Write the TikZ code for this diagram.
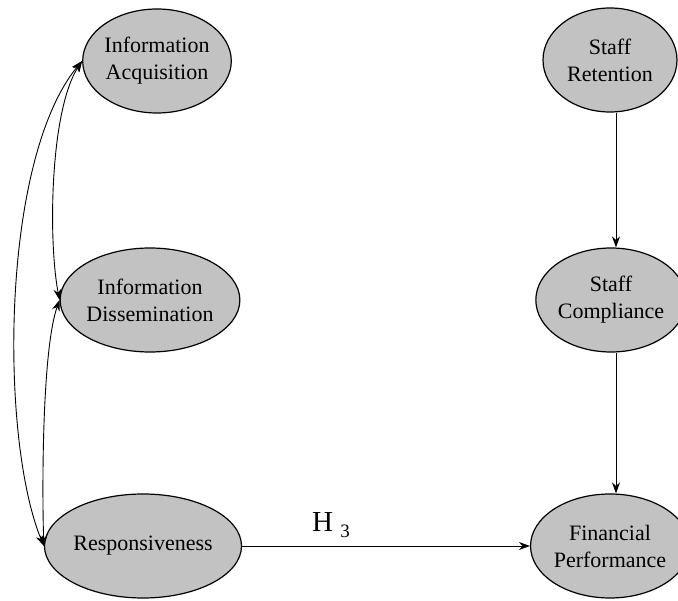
\documentclass[tikz,border=0pt]{standalone}
\usepackage{fontspec}
\setmainfont{Liberation Serif}
\usetikzlibrary{shapes.geometric,arrows.meta}
\begin{document}
\begin{tikzpicture}[x=1pt,y=-1pt,
  construct/.style={ellipse,draw=black,line width=1.2pt,fill=black!24,
    inner sep=0pt,align=center,font=\fontsize{22}{27}\selectfont},
  leftc/.style={construct,minimum width=142pt,minimum height=104pt},
  rightc/.style={construct,minimum width=134pt,minimum height=104pt},
  link/.style={line width=0.9pt,-{Stealth[length=11pt,width=8pt]}},
  corr/.style={line width=0.9pt,{Stealth[length=11pt,width=8pt]}-{Stealth[length=11pt,width=8pt]}}]
\useasboundingbox (0,0) rectangle (678,601);

% exogenous constructs (left column)
\node[leftc] (IA) at (157,61)  {Information\\Acquisition};
\node[leftc] (ID) at (150,300) {Information\\Dissemination};
\node[leftc] (RS) at (143,546) {Responsiveness};

% outcome chain (right column)
\node[rightc] (SR) at (610,60)  {Staff\\Retention};
\node[rightc] (SC) at (611,300) {Staff\\Compliance};
\node[rightc] (FP) at (610,546) {Financial\\Performance};

% correlations among the orientation components
\draw[corr] (IA.west) .. controls (0,160) and (0,440) .. (RS.west);
\draw[corr] (IA.west) .. controls (50,110) and (48,240) .. (ID.west);
\draw[corr] (ID.west) .. controls (42,350) and (42,490) .. (RS.west);

% structural paths
\draw[link] ([xshift=6pt]SR.south) -- ([xshift=5pt]SC.north);
\draw[link] ([xshift=5pt]SC.south) -- ([xshift=6pt]FP.north);
\draw[link] (RS.east) -- (FP.west);

% hypothesis label
\node[anchor=base west,inner sep=0pt] (H3) at (312,532)
  {\fontsize{29}{32}\selectfont H \raisebox{-6pt}{\fontsize{19}{22}\selectfont 3}};
\end{tikzpicture}
\end{document}
